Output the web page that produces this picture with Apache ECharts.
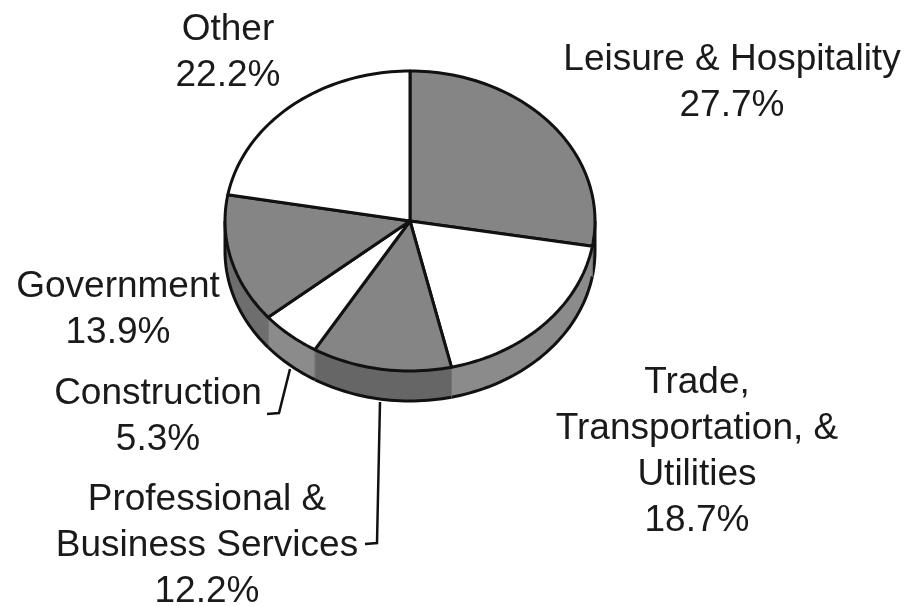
<!DOCTYPE html>
<html><head><meta charset="utf-8">
<style>html,body{margin:0;padding:0;background:#fff}#c{width:911px;height:606px}</style>
<script src="https://cdn.jsdelivr.net/npm/echarts@6/dist/echarts.min.js"></script>
</head><body><div id="c"></div>
<script>
const categories = ["Leisure & Hospitality","Trade,\nTransportation, &\nUtilities","Professional &\nBusiness Services","Construction","Government","Other"];
const shares = [27.7,18.7,12.2,5.3,13.9,22.2];

const topColors  = ["#858585","#ffffff","#858585","#ffffff","#858585","#ffffff"];
const sideColors = ["#6a6a6a","#8b8b8b","#666666","#8b8b8b","#6e6e6e","#8b8b8b"];
const labelCenters = [[732,83],[697,452],[207,546],[158,417],[118,310],[228,53]];
const leaders = [null,null,[[365,544],[377,543],[380,402]],[[267,414],[279,413],[290,369]],null,null];

const CX=410, CY=221, RX=185, RY=150, DEPTH=30;
const total = shares.reduce((a,b)=>a+b,0);
const startOf = i => shares.slice(0,i).reduce((a,b)=>a+b,0)/total*360;
const pt = (deg,dy=0) => {const t=deg*Math.PI/180; return [CX+RX*Math.sin(t), CY-RY*Math.cos(t)+dy];};
const arc = (a,b,dy=0) => {const n=Math.max(2,Math.ceil(Math.abs(b-a)/1.5)),o=[];for(let k=0;k<=n;k++)o.push(pt(a+(b-a)*k/n,dy));return o;};

function renderSide(params, api){
  const i=api.value(0), a=Math.max(startOf(i),90), b=Math.min(startOf(i)+api.value(1)/total*360,270);
  if(b<=a) return {type:'group',children:[]};
  const upper=arc(a,b), lower=arc(a,b,DEPTH);
  const children=[{type:'polygon',shape:{points:upper.concat(lower.slice().reverse())},style:{fill:sideColors[i],stroke:'#757575',lineWidth:1}}];
  const rim=lower.slice();
  if(a===90) rim.unshift(pt(90));
  if(b===270) rim.push(pt(270));
  children.push({type:'polyline',shape:{points:rim},style:{fill:null,stroke:'#111',lineWidth:3}});
  return {type:'group',children};
}
function renderTop(params, api){
  const i=api.value(0), a=startOf(i), b=a+api.value(1)/total*360;
  return {type:'polygon',shape:{points:[[CX,CY]].concat(arc(a,b))},
    style:{fill:topColors[i],stroke:'#111',lineWidth:3,lineJoin:'round'}};
}
function renderLabel(params, api){
  const i=api.value(0), p=labelCenters[i], children=[];
  children.push({type:'text',x:p[0],y:p[1],style:{
    text:categories[i]+'\n'+api.value(1).toFixed(1)+'%',
    font:'37px "Liberation Sans", Arial, sans-serif',fill:'#1a1a1a',
    align:'center',verticalAlign:'middle',lineHeight:46}});
  if(leaders[i]) children.push({type:'polyline',shape:{points:leaders[i]},style:{fill:null,stroke:'#111',lineWidth:2.5}});
  return {type:'group',children};
}
const rows = shares.map((v,i)=>[i,v]);
const chart = echarts.init(document.getElementById('c'),null,{renderer:'canvas'});
chart.setOption({
  animation:false,backgroundColor:'#fff',
  series:[
    {type:'custom',coordinateSystem:'none',data:rows,renderItem:renderSide,silent:true,z:1},
    {type:'custom',coordinateSystem:'none',data:rows,renderItem:renderTop,silent:true,z:2},
    {type:'custom',coordinateSystem:'none',data:rows,renderItem:renderLabel,silent:true,z:3}
  ]
});
</script></body></html>
